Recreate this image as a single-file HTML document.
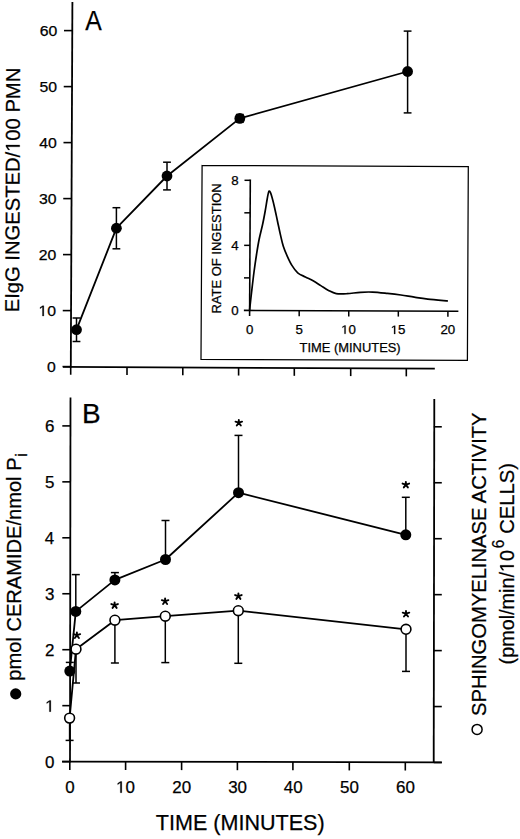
<!DOCTYPE html>
<html><head><meta charset="utf-8"><style>
html,body{margin:0;padding:0;background:#fff;}
svg{display:block;}
text{font-family:"Liberation Sans", sans-serif;fill:#000;stroke:#000;stroke-width:0.25px;}
</style></head><body>
<svg width="520" height="839" viewBox="0 0 520 839" stroke="#000">
<rect x="0" y="0" width="520" height="839" fill="#fff" stroke="none"/>
<g stroke="#000">
<line x1="72.40" y1="1.90" x2="70.80" y2="367.60" stroke-width="1.8" stroke-linecap="butt"/>
<line x1="63.97" y1="30.60" x2="72.27" y2="30.60" stroke-width="1.6" stroke-linecap="butt"/>
<text x="39.65" y="36.00" font-size="14.90" textLength="17.57" lengthAdjust="spacingAndGlyphs">60</text>
<line x1="63.73" y1="86.60" x2="72.03" y2="86.60" stroke-width="1.6" stroke-linecap="butt"/>
<text x="39.41" y="92.00" font-size="14.90" textLength="17.57" lengthAdjust="spacingAndGlyphs">50</text>
<line x1="63.48" y1="142.60" x2="71.78" y2="142.60" stroke-width="1.6" stroke-linecap="butt"/>
<text x="39.18" y="148.00" font-size="14.90" textLength="17.57" lengthAdjust="spacingAndGlyphs">40</text>
<line x1="63.24" y1="198.60" x2="71.54" y2="198.60" stroke-width="1.6" stroke-linecap="butt"/>
<text x="38.94" y="204.00" font-size="14.90" textLength="17.57" lengthAdjust="spacingAndGlyphs">30</text>
<line x1="62.99" y1="254.60" x2="71.29" y2="254.60" stroke-width="1.6" stroke-linecap="butt"/>
<text x="38.71" y="260.00" font-size="14.90" textLength="17.57" lengthAdjust="spacingAndGlyphs">20</text>
<line x1="62.75" y1="310.60" x2="71.05" y2="310.60" stroke-width="1.6" stroke-linecap="butt"/>
<text x="38.47" y="316.00" font-size="14.90" textLength="17.57" lengthAdjust="spacingAndGlyphs"> 0</text>
<path d="M515,0L515,1237L197,1010L197,1180L530,1409L696,1409L696,0Z" transform="translate(38.47,316.00) scale(0.00771,-0.00728)" fill="#000" stroke="#000" stroke-width="0.25" vector-effect="non-scaling-stroke"/>
<line x1="62.50" y1="366.60" x2="70.80" y2="366.60" stroke-width="1.6" stroke-linecap="butt"/>
<text x="47.02" y="372.00" font-size="14.90" textLength="8.78" lengthAdjust="spacingAndGlyphs">0</text>
<line x1="63.00" y1="366.90" x2="434.80" y2="368.70" stroke-width="1.8" stroke-linecap="butt"/>
<line x1="70.70" y1="366.94" x2="70.70" y2="374.74" stroke-width="1.6" stroke-linecap="butt"/>
<line x1="127.00" y1="367.21" x2="127.00" y2="375.01" stroke-width="1.6" stroke-linecap="butt"/>
<line x1="182.80" y1="367.48" x2="182.80" y2="375.28" stroke-width="1.6" stroke-linecap="butt"/>
<line x1="238.60" y1="367.75" x2="238.60" y2="375.55" stroke-width="1.6" stroke-linecap="butt"/>
<line x1="294.30" y1="368.02" x2="294.30" y2="375.82" stroke-width="1.6" stroke-linecap="butt"/>
<line x1="350.70" y1="368.29" x2="350.70" y2="376.09" stroke-width="1.6" stroke-linecap="butt"/>
<line x1="406.30" y1="368.56" x2="406.30" y2="376.36" stroke-width="1.6" stroke-linecap="butt"/>
<text x="85.15" y="30.10" font-size="27.62" textLength="16.50" lengthAdjust="spacingAndGlyphs">A</text>
<text x="0" y="0" transform="translate(19.00,312.26) rotate(-89.750)" font-size="20.06" textLength="244.50" lengthAdjust="spacingAndGlyphs">EIgG INGESTED/ 00 PMN</text>
<path d="M515,0L515,1237L197,1010L197,1180L530,1409L696,1409L696,0Z" transform="translate(19.00,312.26) rotate(-89.750) translate(160.37,0.00) scale(0.00985,-0.00979)" fill="#000" stroke="#000" stroke-width="0.25" vector-effect="non-scaling-stroke"/>
<polyline points="76.50,329.70 116.40,228.20 167.00,176.00 239.80,118.40 407.60,71.50" fill="none" stroke-width="1.8" stroke-linejoin="round"/>
<line x1="76.50" y1="318.00" x2="76.50" y2="341.50" stroke-width="1.5" stroke-linecap="butt"/>
<line x1="72.60" y1="318.00" x2="80.40" y2="318.00" stroke-width="1.5" stroke-linecap="butt"/>
<line x1="72.60" y1="341.50" x2="80.40" y2="341.50" stroke-width="1.5" stroke-linecap="butt"/>
<line x1="116.40" y1="207.70" x2="116.40" y2="248.80" stroke-width="1.5" stroke-linecap="butt"/>
<line x1="112.50" y1="207.70" x2="120.30" y2="207.70" stroke-width="1.5" stroke-linecap="butt"/>
<line x1="112.50" y1="248.80" x2="120.30" y2="248.80" stroke-width="1.5" stroke-linecap="butt"/>
<line x1="167.00" y1="162.20" x2="167.00" y2="189.90" stroke-width="1.5" stroke-linecap="butt"/>
<line x1="163.10" y1="162.20" x2="170.90" y2="162.20" stroke-width="1.5" stroke-linecap="butt"/>
<line x1="163.10" y1="189.90" x2="170.90" y2="189.90" stroke-width="1.5" stroke-linecap="butt"/>
<line x1="239.80" y1="114.50" x2="239.80" y2="122.30" stroke-width="1.5" stroke-linecap="butt"/>
<line x1="235.90" y1="114.50" x2="243.70" y2="114.50" stroke-width="1.5" stroke-linecap="butt"/>
<line x1="235.90" y1="122.30" x2="243.70" y2="122.30" stroke-width="1.5" stroke-linecap="butt"/>
<line x1="407.60" y1="31.10" x2="407.60" y2="112.90" stroke-width="1.5" stroke-linecap="butt"/>
<line x1="403.70" y1="31.10" x2="411.50" y2="31.10" stroke-width="1.5" stroke-linecap="butt"/>
<line x1="403.70" y1="112.90" x2="411.50" y2="112.90" stroke-width="1.5" stroke-linecap="butt"/>
<circle cx="76.50" cy="329.70" r="5.4" fill="#000" stroke="none"/>
<circle cx="116.40" cy="228.20" r="5.4" fill="#000" stroke="none"/>
<circle cx="167.00" cy="176.00" r="5.4" fill="#000" stroke="none"/>
<circle cx="239.80" cy="118.40" r="5.4" fill="#000" stroke="none"/>
<circle cx="407.60" cy="71.50" r="5.4" fill="#000" stroke="none"/>
<polygon points="202.1,165.5 468.3,166.5 467.4,360.4 201.0,359.3" fill="#fff" stroke-width="1.25" stroke-linejoin="miter"/>
<line x1="250.30" y1="179.60" x2="249.60" y2="316.00" stroke-width="1.6" stroke-linecap="butt"/>
<line x1="243.90" y1="310.40" x2="458.40" y2="311.20" stroke-width="1.6" stroke-linecap="butt"/>
<line x1="243.97" y1="277.88" x2="249.78" y2="277.88" stroke-width="1.5" stroke-linecap="butt"/>
<line x1="244.15" y1="245.35" x2="249.95" y2="245.35" stroke-width="1.5" stroke-linecap="butt"/>
<line x1="244.32" y1="212.82" x2="250.12" y2="212.82" stroke-width="1.5" stroke-linecap="butt"/>
<line x1="244.50" y1="180.30" x2="250.30" y2="180.30" stroke-width="1.5" stroke-linecap="butt"/>
<line x1="299.18" y1="310.61" x2="299.18" y2="316.21" stroke-width="1.5" stroke-linecap="butt"/>
<line x1="348.75" y1="310.79" x2="348.75" y2="316.39" stroke-width="1.5" stroke-linecap="butt"/>
<line x1="398.32" y1="310.98" x2="398.32" y2="316.58" stroke-width="1.5" stroke-linecap="butt"/>
<line x1="447.90" y1="311.16" x2="447.90" y2="316.76" stroke-width="1.5" stroke-linecap="butt"/>
<text x="231.32" y="314.62" font-size="12.10" textLength="7.40" lengthAdjust="spacingAndGlyphs">0</text>
<text x="231.19" y="249.57" font-size="12.10" textLength="7.40" lengthAdjust="spacingAndGlyphs">4</text>
<text x="231.38" y="184.52" font-size="12.10" textLength="7.40" lengthAdjust="spacingAndGlyphs">8</text>
<text x="245.90" y="333.52" font-size="12.10" textLength="7.40" lengthAdjust="spacingAndGlyphs">0</text>
<text x="295.49" y="333.67" font-size="12.10" textLength="7.40" lengthAdjust="spacingAndGlyphs">5</text>
<text x="341.10" y="333.82" font-size="12.10" textLength="14.80" lengthAdjust="spacingAndGlyphs"> 0</text>
<path d="M515,0L515,1237L197,1010L197,1180L530,1409L696,1409L696,0Z" transform="translate(341.10,333.82) scale(0.00650,-0.00591)" fill="#000" stroke="#000" stroke-width="0.25" vector-effect="non-scaling-stroke"/>
<text x="390.70" y="333.97" font-size="12.10" textLength="14.80" lengthAdjust="spacingAndGlyphs"> 5</text>
<path d="M515,0L515,1237L197,1010L197,1180L530,1409L696,1409L696,0Z" transform="translate(390.70,333.97) scale(0.00650,-0.00591)" fill="#000" stroke="#000" stroke-width="0.25" vector-effect="non-scaling-stroke"/>
<text x="440.42" y="334.12" font-size="12.10" textLength="14.80" lengthAdjust="spacingAndGlyphs">20</text>
<text x="299.51" y="351.90" font-size="12.50" textLength="101.19" lengthAdjust="spacingAndGlyphs">TIME (MINUTES)</text>
<text x="0" y="0" transform="translate(221.00,313.56) rotate(-90.000)" font-size="12.94" textLength="130.31" lengthAdjust="spacingAndGlyphs">RATE OF INGESTION</text>
<path d="M249.60,309.80C249.93,306.83 250.87,298.30 251.60,292.00C252.33,285.70 253.17,278.33 254.00,272.00C254.83,265.67 255.73,259.50 256.60,254.00C257.47,248.50 258.18,244.00 259.20,239.00C260.22,234.00 261.70,228.67 262.70,224.00C263.70,219.33 264.45,215.17 265.20,211.00C265.95,206.83 266.60,202.25 267.20,199.00C267.80,195.75 268.27,192.58 268.80,191.50C269.33,190.42 269.83,191.42 270.40,192.50C270.97,193.58 271.50,195.47 272.20,198.00C272.90,200.53 273.72,203.83 274.60,207.70C275.48,211.57 276.53,216.72 277.50,221.20C278.47,225.68 279.43,230.43 280.40,234.60C281.37,238.77 282.18,242.67 283.30,246.20C284.42,249.73 285.67,252.60 287.10,255.80C288.53,259.00 290.13,262.57 291.90,265.40C293.67,268.23 295.45,270.87 297.70,272.80C299.95,274.73 302.83,275.67 305.40,277.00C307.97,278.33 310.53,279.37 313.10,280.80C315.67,282.23 318.23,284.00 320.80,285.60C323.37,287.20 325.93,289.07 328.50,290.40C331.07,291.73 333.12,293.05 336.20,293.60C339.28,294.15 342.97,293.92 347.00,293.70C351.03,293.48 356.13,292.57 360.40,292.30C364.67,292.03 368.10,291.92 372.60,292.10C377.10,292.28 382.68,292.92 387.40,293.40C392.12,293.88 396.42,294.37 400.90,295.00C405.38,295.63 409.82,296.52 414.30,297.20C418.78,297.88 422.18,298.47 427.80,299.10C433.42,299.73 444.63,300.68 448.00,301.00" fill="none" stroke-width="1.7" stroke-linejoin="round"/>
<line x1="70.50" y1="397.60" x2="70.00" y2="762.30" stroke-width="1.8" stroke-linecap="butt"/>
<line x1="62.30" y1="761.60" x2="70.30" y2="761.60" stroke-width="1.6" stroke-linecap="butt"/>
<text x="44.93" y="767.59" font-size="16.30" textLength="9.43" lengthAdjust="spacingAndGlyphs">0</text>
<line x1="62.30" y1="705.65" x2="70.30" y2="705.65" stroke-width="1.6" stroke-linecap="butt"/>
<text x="45.10" y="711.64" font-size="16.30" textLength="9.43" lengthAdjust="spacingAndGlyphs"> </text>
<path d="M515,0L515,1237L197,1010L197,1180L530,1409L696,1409L696,0Z" transform="translate(45.10,711.64) scale(0.00828,-0.00796)" fill="#000" stroke="#000" stroke-width="0.25" vector-effect="non-scaling-stroke"/>
<line x1="62.30" y1="649.70" x2="70.30" y2="649.70" stroke-width="1.6" stroke-linecap="butt"/>
<text x="45.12" y="655.69" font-size="16.30" textLength="9.43" lengthAdjust="spacingAndGlyphs">2</text>
<line x1="62.30" y1="593.75" x2="70.30" y2="593.75" stroke-width="1.6" stroke-linecap="butt"/>
<text x="45.02" y="599.74" font-size="16.30" textLength="9.43" lengthAdjust="spacingAndGlyphs">3</text>
<line x1="62.30" y1="537.80" x2="70.30" y2="537.80" stroke-width="1.6" stroke-linecap="butt"/>
<text x="44.77" y="543.79" font-size="16.30" textLength="9.43" lengthAdjust="spacingAndGlyphs">4</text>
<line x1="62.30" y1="481.85" x2="70.30" y2="481.85" stroke-width="1.6" stroke-linecap="butt"/>
<text x="44.98" y="487.84" font-size="16.30" textLength="9.43" lengthAdjust="spacingAndGlyphs">5</text>
<line x1="62.30" y1="425.90" x2="70.30" y2="425.90" stroke-width="1.6" stroke-linecap="butt"/>
<text x="45.02" y="431.89" font-size="16.30" textLength="9.43" lengthAdjust="spacingAndGlyphs">6</text>
<line x1="434.30" y1="399.00" x2="433.70" y2="762.60" stroke-width="1.8" stroke-linecap="butt"/>
<line x1="433.80" y1="762.50" x2="441.80" y2="762.50" stroke-width="1.6" stroke-linecap="butt"/>
<line x1="433.80" y1="706.55" x2="441.80" y2="706.55" stroke-width="1.6" stroke-linecap="butt"/>
<line x1="433.80" y1="650.60" x2="441.80" y2="650.60" stroke-width="1.6" stroke-linecap="butt"/>
<line x1="433.80" y1="594.65" x2="441.80" y2="594.65" stroke-width="1.6" stroke-linecap="butt"/>
<line x1="433.80" y1="538.70" x2="441.80" y2="538.70" stroke-width="1.6" stroke-linecap="butt"/>
<line x1="433.80" y1="482.75" x2="441.80" y2="482.75" stroke-width="1.6" stroke-linecap="butt"/>
<line x1="433.80" y1="426.80" x2="441.80" y2="426.80" stroke-width="1.6" stroke-linecap="butt"/>
<line x1="62.00" y1="761.60" x2="441.80" y2="762.30" stroke-width="1.8" stroke-linecap="butt"/>
<line x1="69.80" y1="761.61" x2="69.80" y2="769.91" stroke-width="1.6" stroke-linecap="butt"/>
<text x="65.29" y="792.69" font-size="16.30" textLength="9.43" lengthAdjust="spacingAndGlyphs">0</text>
<line x1="125.60" y1="761.71" x2="125.60" y2="770.01" stroke-width="1.6" stroke-linecap="butt"/>
<text x="116.06" y="792.69" font-size="16.30" textLength="18.86" lengthAdjust="spacingAndGlyphs"> 0</text>
<path d="M515,0L515,1237L197,1010L197,1180L530,1409L696,1409L696,0Z" transform="translate(116.06,792.69) scale(0.00828,-0.00796)" fill="#000" stroke="#000" stroke-width="0.25" vector-effect="non-scaling-stroke"/>
<line x1="181.60" y1="761.82" x2="181.60" y2="770.12" stroke-width="1.6" stroke-linecap="butt"/>
<text x="172.28" y="792.69" font-size="16.30" textLength="18.86" lengthAdjust="spacingAndGlyphs">20</text>
<line x1="237.40" y1="761.92" x2="237.40" y2="770.22" stroke-width="1.6" stroke-linecap="butt"/>
<text x="228.18" y="792.69" font-size="16.30" textLength="18.86" lengthAdjust="spacingAndGlyphs">30</text>
<line x1="292.90" y1="762.02" x2="292.90" y2="770.32" stroke-width="1.6" stroke-linecap="butt"/>
<text x="283.81" y="792.69" font-size="16.30" textLength="18.86" lengthAdjust="spacingAndGlyphs">40</text>
<line x1="349.30" y1="762.12" x2="349.30" y2="770.42" stroke-width="1.6" stroke-linecap="butt"/>
<text x="340.06" y="792.69" font-size="16.30" textLength="18.86" lengthAdjust="spacingAndGlyphs">50</text>
<line x1="405.30" y1="762.22" x2="405.30" y2="770.52" stroke-width="1.6" stroke-linecap="butt"/>
<text x="395.97" y="792.69" font-size="16.30" textLength="18.86" lengthAdjust="spacingAndGlyphs">60</text>
<text x="155.82" y="830.20" font-size="21.95" textLength="168.82" lengthAdjust="spacingAndGlyphs">TIME (MINUTES)</text>
<text x="82.10" y="423.40" font-size="27.33" textLength="18.67" lengthAdjust="spacingAndGlyphs">B</text>
<text x="0" y="0" transform="translate(20.60,680.69) rotate(-90.000)" font-size="19.91" textLength="223.25" lengthAdjust="spacingAndGlyphs">pmol CERAMIDE/nmol P</text>
<text x="0" y="0" transform="translate(27.1,456.8) rotate(-90)" font-size="16.3">i</text>
<circle cx="15.70" cy="693.90" r="5.6" fill="#000" stroke="none"/>
<text x="0" y="0" transform="translate(485.50,716.01) rotate(-90.000)" font-size="20.35" textLength="303.55" lengthAdjust="spacingAndGlyphs">SPHINGOMYELINASE ACTIVITY</text>
<circle cx="477.10" cy="729.40" r="5.0" fill="#fff" stroke-width="1.5"/>
<text x="0" y="0" transform="translate(513.80,664.43) rotate(-90.000)" font-size="19.91" textLength="114.40" lengthAdjust="spacingAndGlyphs">(pmol/min/ 0</text>
<path d="M515,0L515,1237L197,1010L197,1180L530,1409L696,1409L696,0Z" transform="translate(513.80,664.43) rotate(-90.000) translate(92.38,0.00) scale(0.00966,-0.00972)" fill="#000" stroke="#000" stroke-width="0.25" vector-effect="non-scaling-stroke"/>
<text x="0" y="0" transform="translate(504.43,548.28) rotate(-90)" font-size="16.95" textLength="8.56" lengthAdjust="spacingAndGlyphs">6</text>
<text x="0" y="0" transform="translate(513.90,533.83) rotate(-90.000)" font-size="20.06" textLength="70.88" lengthAdjust="spacingAndGlyphs">CELLS)</text>
<line x1="69.80" y1="662.40" x2="69.80" y2="671.10" stroke-width="1.5" stroke-linecap="butt"/>
<line x1="65.80" y1="662.40" x2="73.80" y2="662.40" stroke-width="1.5" stroke-linecap="butt"/>
<line x1="75.80" y1="574.60" x2="75.80" y2="611.40" stroke-width="1.5" stroke-linecap="butt"/>
<line x1="71.80" y1="574.60" x2="79.80" y2="574.60" stroke-width="1.5" stroke-linecap="butt"/>
<line x1="114.90" y1="572.60" x2="114.90" y2="579.90" stroke-width="1.5" stroke-linecap="butt"/>
<line x1="110.90" y1="572.60" x2="118.90" y2="572.60" stroke-width="1.5" stroke-linecap="butt"/>
<line x1="165.50" y1="520.50" x2="165.50" y2="559.50" stroke-width="1.5" stroke-linecap="butt"/>
<line x1="161.50" y1="520.50" x2="169.50" y2="520.50" stroke-width="1.5" stroke-linecap="butt"/>
<line x1="238.50" y1="435.40" x2="238.50" y2="492.70" stroke-width="1.5" stroke-linecap="butt"/>
<line x1="234.50" y1="435.40" x2="242.50" y2="435.40" stroke-width="1.5" stroke-linecap="butt"/>
<line x1="405.80" y1="497.30" x2="405.80" y2="534.80" stroke-width="1.5" stroke-linecap="butt"/>
<line x1="401.80" y1="497.30" x2="409.80" y2="497.30" stroke-width="1.5" stroke-linecap="butt"/>
<line x1="69.60" y1="718.10" x2="69.60" y2="740.40" stroke-width="1.5" stroke-linecap="butt"/>
<line x1="65.60" y1="740.40" x2="73.60" y2="740.40" stroke-width="1.5" stroke-linecap="butt"/>
<line x1="76.00" y1="649.20" x2="76.00" y2="683.00" stroke-width="1.5" stroke-linecap="butt"/>
<line x1="72.00" y1="683.00" x2="80.00" y2="683.00" stroke-width="1.5" stroke-linecap="butt"/>
<line x1="114.90" y1="620.20" x2="114.90" y2="663.00" stroke-width="1.5" stroke-linecap="butt"/>
<line x1="110.90" y1="663.00" x2="118.90" y2="663.00" stroke-width="1.5" stroke-linecap="butt"/>
<line x1="165.30" y1="616.20" x2="165.30" y2="662.60" stroke-width="1.5" stroke-linecap="butt"/>
<line x1="161.30" y1="662.60" x2="169.30" y2="662.60" stroke-width="1.5" stroke-linecap="butt"/>
<line x1="238.30" y1="610.70" x2="238.30" y2="663.30" stroke-width="1.5" stroke-linecap="butt"/>
<line x1="234.30" y1="663.30" x2="242.30" y2="663.30" stroke-width="1.5" stroke-linecap="butt"/>
<line x1="406.00" y1="629.30" x2="406.00" y2="671.40" stroke-width="1.5" stroke-linecap="butt"/>
<line x1="402.00" y1="671.40" x2="410.00" y2="671.40" stroke-width="1.5" stroke-linecap="butt"/>
<polyline points="69.80,671.10 75.80,611.40 114.90,579.90 165.50,559.50 238.50,492.70 405.80,534.80" fill="none" stroke-width="1.8" stroke-linejoin="round"/>
<polyline points="69.60,718.10 76.00,649.20 114.90,620.20 165.30,616.20 238.30,610.70 406.00,629.30" fill="none" stroke-width="1.8" stroke-linejoin="round"/>
<circle cx="69.80" cy="671.10" r="5.5" fill="#000" stroke="none"/>
<circle cx="75.80" cy="611.40" r="5.5" fill="#000" stroke="none"/>
<circle cx="114.90" cy="579.90" r="5.5" fill="#000" stroke="none"/>
<circle cx="165.50" cy="559.50" r="5.5" fill="#000" stroke="none"/>
<circle cx="238.50" cy="492.70" r="5.5" fill="#000" stroke="none"/>
<circle cx="405.80" cy="534.80" r="5.5" fill="#000" stroke="none"/>
<circle cx="69.60" cy="718.10" r="4.9" fill="#fff" stroke-width="1.6"/>
<circle cx="76.00" cy="649.20" r="4.9" fill="#fff" stroke-width="1.6"/>
<circle cx="114.90" cy="620.20" r="4.9" fill="#fff" stroke-width="1.6"/>
<circle cx="165.30" cy="616.20" r="4.9" fill="#fff" stroke-width="1.6"/>
<circle cx="238.30" cy="610.70" r="4.9" fill="#fff" stroke-width="1.6"/>
<circle cx="406.00" cy="629.30" r="4.9" fill="#fff" stroke-width="1.6"/>
<path d="M76.90,635.20L76.90,632.44M76.90,635.20L80.18,634.13M76.90,635.20L78.93,637.99M76.90,635.20L74.87,637.99M76.90,635.20L73.62,634.13" stroke-width="1.9" stroke-linecap="round" fill="none"/>
<path d="M114.60,605.10L114.60,602.34M114.60,605.10L117.88,604.03M114.60,605.10L116.63,607.89M114.60,605.10L112.57,607.89M114.60,605.10L111.32,604.03" stroke-width="1.9" stroke-linecap="round" fill="none"/>
<path d="M165.10,601.20L165.10,598.44M165.10,601.20L168.38,600.13M165.10,601.20L167.13,603.99M165.10,601.20L163.07,603.99M165.10,601.20L161.82,600.13" stroke-width="1.9" stroke-linecap="round" fill="none"/>
<path d="M238.40,596.10L238.40,593.34M238.40,596.10L241.68,595.03M238.40,596.10L240.43,598.89M238.40,596.10L236.37,598.89M238.40,596.10L235.12,595.03" stroke-width="1.9" stroke-linecap="round" fill="none"/>
<path d="M406.00,613.70L406.00,610.94M406.00,613.70L409.28,612.63M406.00,613.70L408.03,616.49M406.00,613.70L403.97,616.49M406.00,613.70L402.72,612.63" stroke-width="1.9" stroke-linecap="round" fill="none"/>
<path d="M238.80,422.70L238.80,419.94M238.80,422.70L242.08,421.63M238.80,422.70L240.83,425.49M238.80,422.70L236.77,425.49M238.80,422.70L235.52,421.63" stroke-width="1.9" stroke-linecap="round" fill="none"/>
<path d="M405.85,484.60L405.85,481.84M405.85,484.60L409.13,483.53M405.85,484.60L407.88,487.39M405.85,484.60L403.82,487.39M405.85,484.60L402.57,483.53" stroke-width="1.9" stroke-linecap="round" fill="none"/>
</g>
</svg>
</body></html>
